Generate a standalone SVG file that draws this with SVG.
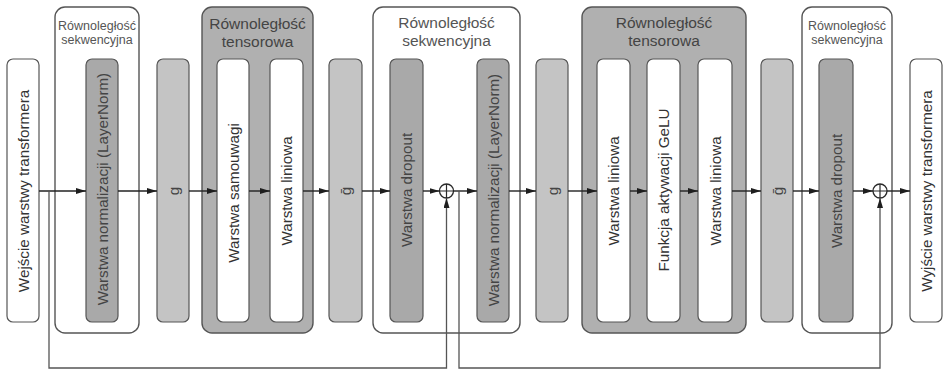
<svg xmlns="http://www.w3.org/2000/svg" width="945" height="370" viewBox="0 0 945 370">
<defs>
<marker id="ah" viewBox="0 0 10 6" refX="10" refY="3" markerWidth="10" markerHeight="6" markerUnits="userSpaceOnUse" orient="auto">
<path d="M0,0 L10,3 L0,6 z" fill="#1e1e1e"/>
</marker>
<style>
.grp-s{fill:#ffffff;stroke:#555;stroke-width:1.4}
.grp-t{fill:#b0b0b0;stroke:#555;stroke-width:1.4}
.bw{fill:#ffffff;stroke:#555;stroke-width:1.2}
.bd{fill:#a9a9a9;stroke:#555;stroke-width:1.2}
.bl{fill:#c4c4c4;stroke:#555;stroke-width:1.2}
text{font-family:"Liberation Sans",Arial,sans-serif}
.lbl{font-size:15.2px;text-anchor:middle;dominant-baseline:central;fill:#333}
.lbld{font-size:15.2px;text-anchor:middle;dominant-baseline:central;fill:#444}
.tt{font-size:15.5px;text-anchor:middle;fill:#555}
.ts{font-size:12.5px;text-anchor:middle;fill:#555}
.ttd{font-size:15.5px;text-anchor:middle;fill:#444}
.con{fill:none;stroke:#222;stroke-width:1.4}
.con2{fill:none;stroke:#555;stroke-width:1.3}
</style>
</defs>
<rect width="945" height="370" fill="#ffffff"/>

<g id="input">
<rect class="bw" x="7" y="59" width="32" height="263" rx="6"/>
<text class="lbl" transform="translate(23,191) rotate(-90)">Wejście warstwy transformera</text>
</g>

<g id="seq1">
<rect class="grp-s" x="55" y="7" width="84" height="326" rx="10"/>
<text class="ts" x="97" y="30">Równoległość</text>
<text class="ts" x="97" y="44">sekwencyjna</text>
</g>
<g id="layernorm1">
<rect class="bd" x="86" y="59" width="32" height="263" rx="6"/>
<text class="lbld" transform="translate(102,189) rotate(-90)">Warstwa normalizacji (LayerNorm)</text>
</g>

<g id="g1">
<rect class="bl" x="157" y="59" width="32" height="263" rx="6"/>
<text class="lbld" transform="translate(173,191) rotate(-90)">g</text>
</g>

<g id="tensor1">
<rect class="grp-t" x="202" y="7" width="111" height="326" rx="10"/>
<text class="ttd" x="257.5" y="29">Równoległość</text>
<text class="ttd" x="257.5" y="47">tensorowa</text>
</g>
<g id="selfattn">
<rect class="bw" x="217" y="59" width="32" height="263" rx="6"/>
<text class="lbl" transform="translate(233,193) rotate(-90)">Warstwa samouwagi</text>
</g>
<g id="linear1">
<rect class="bw" x="270" y="59" width="33" height="263" rx="6"/>
<text class="lbl" transform="translate(286.5,191) rotate(-90)">Warstwa liniowa</text>
</g>

<g id="gbar1">
<rect class="bl" x="329" y="59" width="33" height="263" rx="6"/>
<text class="lbld" transform="translate(345.5,191) rotate(-90)">ḡ</text>
</g>

<g id="seq2">
<rect class="grp-s" x="373" y="7" width="147" height="326" rx="10"/>
<text class="tt" x="446.5" y="28">Równoległość</text>
<text class="tt" x="446.5" y="46">sekwencyjna</text>
</g>
<g id="dropout1">
<rect class="bd" x="390" y="59" width="33" height="263" rx="6"/>
<text class="lbld" transform="translate(406.5,190) rotate(-90)">Warstwa dropout</text>
</g>
<g id="add1">
<circle cx="446.5" cy="191" r="7" fill="#ffffff" stroke="#2a2a2a" stroke-width="1.3"/>
<path d="M439.5,191 H453.5 M446.5,184 V198" stroke="#2a2a2a" stroke-width="1.2"/>
</g>
<g id="layernorm2">
<rect class="bd" x="477" y="59" width="32" height="263" rx="6"/>
<text class="lbld" transform="translate(493,190) rotate(-90)">Warstwa normalizacji (LayerNorm)</text>
</g>

<g id="g2">
<rect class="bl" x="536" y="59" width="32" height="263" rx="6"/>
<text class="lbld" transform="translate(552,191) rotate(-90)">g</text>
</g>

<g id="tensor2">
<rect class="grp-t" x="582" y="7" width="164" height="326" rx="10"/>
<text class="ttd" x="664" y="28">Równoległość</text>
<text class="ttd" x="664" y="46">tensorowa</text>
</g>
<g id="linear2">
<rect class="bw" x="597" y="59" width="33" height="263" rx="6"/>
<text class="lbl" transform="translate(613.5,191) rotate(-90)">Warstwa liniowa</text>
</g>
<g id="gelu">
<rect class="bw" x="647" y="59" width="33" height="263" rx="6"/>
<text class="lbl" transform="translate(663.5,190) rotate(-90)">Funkcja aktywacji GeLU</text>
</g>
<g id="linear3">
<rect class="bw" x="698" y="59" width="34" height="263" rx="6"/>
<text class="lbl" transform="translate(715,191) rotate(-90)">Warstwa liniowa</text>
</g>

<g id="gbar2">
<rect class="bl" x="761" y="59" width="32" height="263" rx="6"/>
<text class="lbld" transform="translate(777,191) rotate(-90)">ḡ</text>
</g>

<g id="seq3">
<rect class="grp-s" x="802" y="7" width="90" height="326" rx="10"/>
<text class="ts" x="847" y="30">Równoległość</text>
<text class="ts" x="847" y="44">sekwencyjna</text>
</g>
<g id="dropout2">
<rect class="bd" x="819" y="59" width="34" height="263" rx="6"/>
<text class="lbld" transform="translate(836,191) rotate(-90)">Warstwa dropout</text>
</g>
<g id="add2">
<circle cx="880" cy="191" r="7" fill="#ffffff" stroke="#2a2a2a" stroke-width="1.3"/>
<path d="M873,191 H887 M880,184 V198" stroke="#2a2a2a" stroke-width="1.2"/>
</g>

<g id="output">
<rect class="bw" x="910" y="59" width="32" height="263" rx="6"/>
<text class="lbl" transform="translate(926,191) rotate(-90)">Wyjście warstwy transformera</text>
</g>

<g id="connectors">
<path class="con" d="M39,191 H86" marker-end="url(#ah)"/>
<path class="con" d="M118,191 H157" marker-end="url(#ah)"/>
<path class="con" d="M189,191 H217" marker-end="url(#ah)"/>
<path class="con" d="M249,191 H270" marker-end="url(#ah)"/>
<path class="con" d="M303,191 H329" marker-end="url(#ah)"/>
<path class="con" d="M362,191 H390" marker-end="url(#ah)"/>
<path class="con" d="M423,191 H439.5" marker-end="url(#ah)"/>
<path class="con" d="M453.5,191 H477" marker-end="url(#ah)"/>
<path class="con" d="M509,191 H536" marker-end="url(#ah)"/>
<path class="con" d="M568,191 H597" marker-end="url(#ah)"/>
<path class="con" d="M630,191 H647" marker-end="url(#ah)"/>
<path class="con" d="M680,191 H698" marker-end="url(#ah)"/>
<path class="con" d="M732,191 H761" marker-end="url(#ah)"/>
<path class="con" d="M793,191 H819" marker-end="url(#ah)"/>
<path class="con" d="M853,191 H873" marker-end="url(#ah)"/>
<path class="con" d="M887,191 H910" marker-end="url(#ah)"/>
<path class="con2" d="M49,191 V368 H446.5 V198" marker-end="url(#ah)"/>
<path class="con2" d="M459,191 V368 H880 V198" marker-end="url(#ah)"/>
</g>
</svg>
